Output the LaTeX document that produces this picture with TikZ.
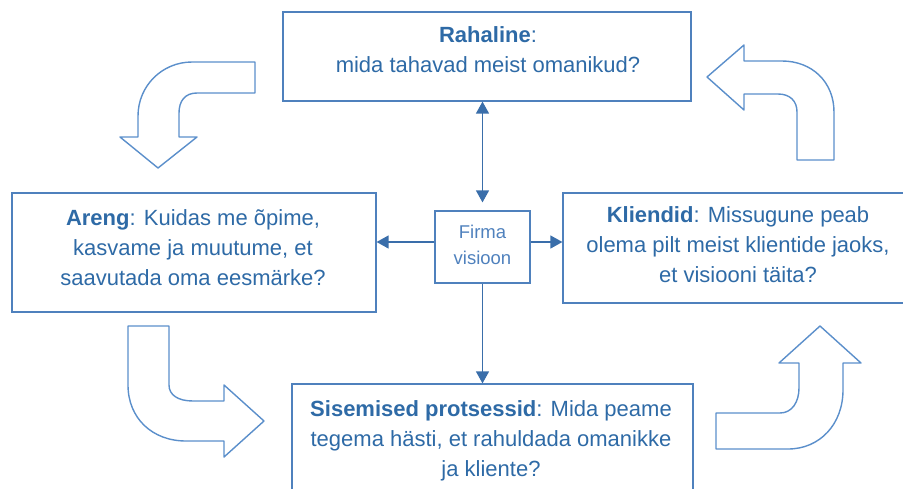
\documentclass[tikz,border=0pt]{standalone}
\usepackage{fontspec}
\setmainfont{Liberation Sans}
\usetikzlibrary{arrows.meta,calc}
\definecolor{boxblue}{HTML}{4F81BD}
\definecolor{txtblue}{HTML}{2E6AA6}
\definecolor{lightblue}{HTML}{5B8FCB}
\definecolor{linkblue}{HTML}{3A6EAA}
\tikzset{
  box/.style={draw=boxblue, line width=1.2pt, rectangle, inner sep=0pt},
  boxtext/.style={text=txtblue, align=center, font=\fontsize{22}{30}\selectfont, inner sep=0pt},
  link/.style={draw=linkblue, line width=1.3pt},
  tipa/.style={-{Triangle[length=12pt,width=13pt]}},
  bigarrow/.style={draw=lightblue, line width=1.4pt, line join=round, fill=white}
}
\begin{document}
\begin{tikzpicture}[x=1pt,y=-1pt]
\useasboundingbox (0,0) rectangle (903,488);
% boxes
\node[box, minimum width=408pt, minimum height=89pt] (top) at (487,56.5) {};
\node[box, minimum width=364pt, minimum height=119pt] (left) at (194,252.5) {};
\node[box, minimum width=350pt, minimum height=110pt] (right) at (738,248) {};
\node[box, minimum width=401pt, minimum height=140pt] (bottom) at (492.5,454) {};
\node[box, minimum width=95pt, minimum height=72pt] (firma) at (482.5,247) {};
% texts
\node[boxtext] (toptext) at (488,50) {\textbf{Rahaline}:\\mida tahavad meist omanikud?};
\node[boxtext] (lefttext) at (193,248) {\textbf{Areng}: Kuidas me õpime,\\kasvame ja muutume, et\\saavutada oma eesmärke?};
\node[boxtext] (righttext) at (738,245) {\textbf{Kliendid}: Missugune peab\\olema pilt meist klientide jaoks,\\et visiooni täita?};
\node[boxtext] (bottomtext) at (491,441) {\textbf{Sisemised protsessid}: Mida peame\\tegema hästi, et rahuldada omanikke\\ja kliente?};
\node[text=boxblue, align=center, font=\fontsize{18.5}{26}\selectfont, inner sep=0pt] (firmatext) at (482.5,245) {Firma\\visioon};
% connectors
\coordinate (ftop) at ($(firma.north)+(0,-8)$);
\draw[link, {Triangle[length=12pt,width=13pt]}-{Triangle[length=12pt,width=13pt]}] (firma.north |- top.south) -- (ftop);
\draw[link, tipa] (firma.south) -- (firma.south |- bottom.north);
\draw[link, tipa] ([yshift=5pt]firma.west) -- ([yshift=5pt]firma.west -| left.east);
\draw[link, tipa] ([yshift=5pt]firma.east) -- ([yshift=5pt]firma.east -| right.west);
% curved block arrows
\draw[bigarrow] (255,62) -- (192,62) .. controls (162,62) and (138,86) .. (138,116)
  -- (138,137) -- (120,137) -- (158,168) -- (197,137) -- (179,137) -- (179,113)
  .. controls (179,101) and (185,93) .. (197,93) -- (255,93) -- cycle;
\draw[bigarrow] (744,61) -- (782,61) .. controls (812,61) and (834,82) .. (834,112)
  -- (834,160) -- (797,160) -- (797,112) .. controls (797,101) and (790,94) .. (778,94)
  -- (744,94) -- (744,110) -- (707,77) -- (744,45) -- cycle;
\draw[bigarrow] (128,326) -- (169,326) -- (169,385) .. controls (169,395) and (178,401) .. (193,401)
  -- (224,401) -- (224,385) -- (264,421) -- (224,457) -- (224,441) -- (186,441)
  .. controls (152,441) and (128,418) .. (128,385) -- cycle;
\draw[bigarrow] (716,413) -- (780,413) .. controls (792,413) and (799,402) .. (799,388)
  -- (799,363) -- (779,363) -- (820,326) -- (861,363) -- (843,363) -- (843,390)
  .. controls (843,424) and (820,449) .. (788,449) -- (716,449) -- cycle;
\end{tikzpicture}
\end{document}
